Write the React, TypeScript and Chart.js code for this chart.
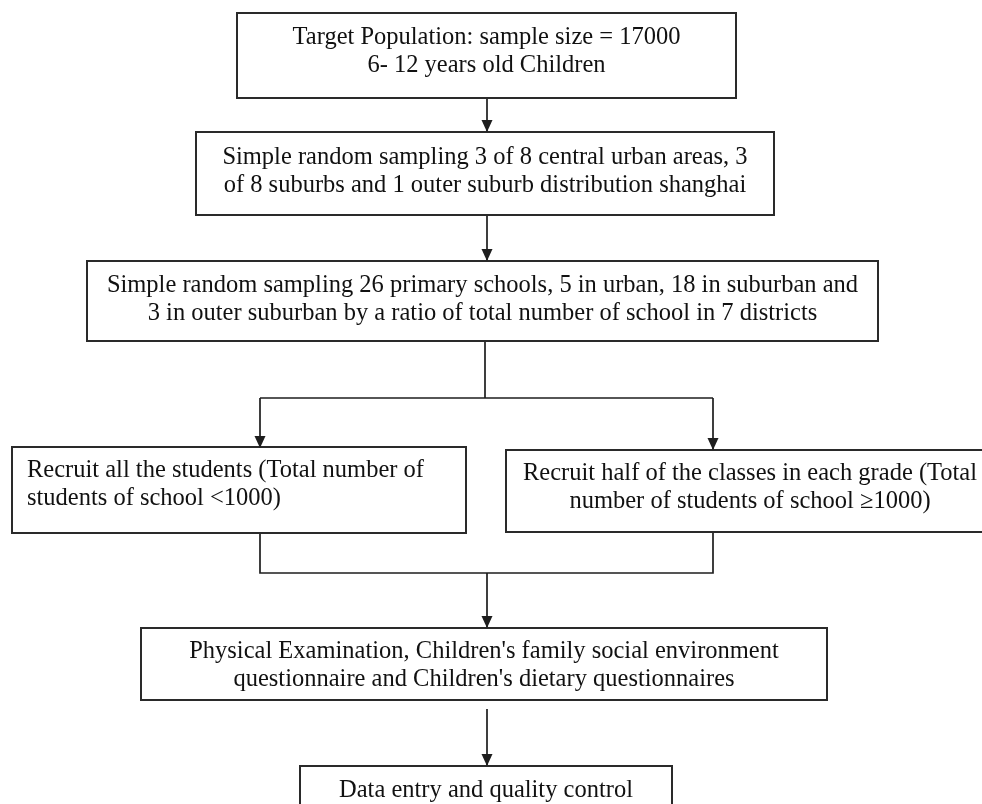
import React, { useEffect, useRef } from "react";
import { Chart, registerables } from "chart.js";

Chart.register(...registerables);

// ---- Flowchart data (diagram units = pixels of the 982x804 figure) ----
const boxLeft = [237, 196, 87, 12, 506, 141, 300];
const boxRight = [736, 774, 878, 466, 994, 827, 672];
const boxTop = [13, 132, 261, 447, 450, 628, 766];
const boxBottom = [98, 215, 341, 533, 532, 700, 830];
const boxFirstBaseline = [44, 164, 292, 477, 480, 658, 797];
const boxAlign = ["center", "center", "center", "left", "center", "center", "center"];
const boxLines: string[][] = [
  ["Target Population: sample size = 17000", "6- 12 years old Children"],
  ["Simple random sampling 3 of 8 central urban areas, 3", "of 8 suburbs and 1 outer suburb distribution shanghai"],
  [
    "Simple random sampling 26 primary schools, 5 in urban, 18 in suburban and",
    "3 in outer suburban by a ratio of total number of school in 7 districts",
  ],
  ["Recruit all the students (Total number of", "students of school <1000)"],
  ["Recruit half of the classes in each grade (Total", "number of students of school \u22651000)"],
  [
    "Physical Examination, Children's family social environment",
    "questionnaire and Children's dietary questionnaires",
  ],
  ["Data entry and quality control"],
];

const connectorX: number[][] = [
  [487, 487],
  [487, 487],
  [485, 485],
  [260, 713],
  [260, 260],
  [713, 713],
  [260, 260, 713, 713],
  [487, 487],
  [487, 487],
];
const connectorY: number[][] = [
  [98, 132],
  [215, 261],
  [341, 398],
  [398, 398],
  [398, 448],
  [398, 450],
  [533, 573, 573, 532],
  [573, 628],
  [709, 766],
];
const connectorArrow = [true, true, false, false, true, true, false, true, true];

// ---- styles ----
const FONT = '24.5px "Liberation Serif", "Times New Roman", serif';
const LINE_HEIGHT = 28;
const TEXT_PAD = 15;
const ARROW_W = 11;
const ARROW_H = 12;
const BOX_COLOR = "#2a2a2a";
const LINE_COLOR = "#1e1e1e";
const TEXT_COLOR = "#111111";

const flowPlugin = {
  id: "flowText",
  afterDatasetsDraw(chart: any) {
    const ctx = chart.ctx;
    const xs = chart.scales.x;
    const ys = chart.scales.y;
    ctx.save();
    // arrowheads
    ctx.fillStyle = LINE_COLOR;
    connectorArrow.forEach((has, i) => {
      if (!has) return;
      const n = connectorX[i].length;
      const tx = xs.getPixelForValue(connectorX[i][n - 1]);
      const ty = ys.getPixelForValue(connectorY[i][n - 1]);
      ctx.beginPath();
      ctx.moveTo(tx, ty);
      ctx.lineTo(tx - ARROW_W / 2, ty - ARROW_H);
      ctx.lineTo(tx + ARROW_W / 2, ty - ARROW_H);
      ctx.closePath();
      ctx.fill();
    });
    // text
    ctx.font = FONT;
    ctx.fillStyle = TEXT_COLOR;
    ctx.textBaseline = "alphabetic";
    boxLines.forEach((lines, i) => {
      const left = xs.getPixelForValue(boxLeft[i]);
      const right = xs.getPixelForValue(boxRight[i]);
      const align = boxAlign[i];
      ctx.textAlign = align === "left" ? "left" : "center";
      const x = align === "left" ? left + TEXT_PAD : (left + right) / 2;
      lines.forEach((line, j) => {
        const y = ys.getPixelForValue(boxFirstBaseline[i]) + j * LINE_HEIGHT;
        ctx.fillText(line, x, y);
      });
    });
    ctx.restore();
  },
};

export default function App() {
  const ref = useRef<HTMLCanvasElement | null>(null);
  useEffect(() => {
    document.body.style.margin = "0";
    const canvas = ref.current;
    if (!canvas) return;
    const datasets: any[] = [];
    boxLeft.forEach((l, i) => {
      const r = boxRight[i];
      const t = boxTop[i];
      const b = boxBottom[i];
      datasets.push({
        label: "box" + i,
        data: [
          { x: l, y: t },
          { x: r, y: t },
          { x: r, y: b },
          { x: l, y: b },
          { x: l, y: t },
        ],
        showLine: true,
        borderColor: BOX_COLOR,
        borderWidth: 2,
        borderJoinStyle: "miter",
        borderCapStyle: "square",
        pointRadius: 0,
        fill: false,
        tension: 0,
      });
    });
    connectorX.forEach((xsArr, i) => {
      datasets.push({
        label: "conn" + i,
        data: xsArr.map((x, k) => ({ x, y: connectorY[i][k] })),
        showLine: true,
        borderColor: LINE_COLOR,
        borderWidth: 1.7,
        borderJoinStyle: "miter",
        pointRadius: 0,
        fill: false,
        tension: 0,
      });
    });
    const chart = new Chart(canvas, {
      type: "scatter",
      data: { datasets },
      options: {
        animation: false,
        responsive: false,
        events: [],
        layout: { padding: 0 },
        plugins: { legend: { display: false }, tooltip: { enabled: false } },
        scales: {
          x: { type: "linear", min: 0, max: 982, display: false },
          y: { type: "linear", min: 0, max: 804, reverse: true, display: false },
        },
      },
      plugins: [flowPlugin],
    });
    return () => chart.destroy();
  }, []);
  return (
    <div style={{ position: "absolute", left: 0, top: 0, width: 982, height: 804, background: "#fff" }}>
      <canvas ref={ref} width={982} height={804} style={{ display: "block" }} />
    </div>
  );
}
